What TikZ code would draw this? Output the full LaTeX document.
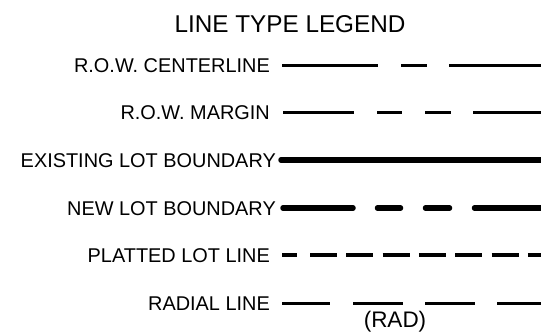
\documentclass[tikz,border=0pt]{standalone}
\usepackage{fontspec}
\setmainfont{Liberation Sans}
\begin{document}
\begin{tikzpicture}[x=1pt,y=-1pt]
\tikzset{
  lbl/.style={anchor=base east, inner sep=0pt, font=\fontsize{19.9}{22}\selectfont},
  thinln/.style={line width=3pt, line cap=butt},
  thickln/.style={line width=5.5pt, line cap=round},
  medln/.style={line width=4pt, line cap=butt}
}
\useasboundingbox (0,0) rectangle (541,333);
\fill[white] (0,0) rectangle (541,333);
\node[anchor=base, inner sep=0pt, font=\fontsize{24.3}{26}\selectfont] (title) at (290,32) {LINE TYPE LEGEND};
% labels
\node[lbl] (l1) at (270,72) {R.O.W. CENTERLINE};
\node[lbl] (l2) at (270,119) {R.O.W. MARGIN};
\node[lbl] (l3) at (276,167) {EXISTING LOT BOUNDARY};
\node[lbl] (l4) at (276,215) {NEW LOT BOUNDARY};
\node[lbl] (l5) at (270,262) {PLATTED LOT LINE};
\node[lbl] (l6) at (270,310) {RADIAL LINE};
\node[anchor=base, inner sep=0pt, font=\fontsize{22.5}{26}\selectfont] (rad) at (395,327) {(RAD)};
% row 1: centerline
\draw[thinln] (282,65) -- (378,65);
\draw[thinln] (401,65) -- (427,65);
\draw[thinln] (449,65) -- (545,65);
% row 2: margin
\draw[thinln] (283,112) -- (354,112);
\draw[thinln] (377,112) -- (402,112);
\draw[thinln] (425,112) -- (451,112);
\draw[thinln] (473,112) -- (545,112);
% row 3: existing lot boundary
\draw[thickln] (281,160) -- (548,160);
% row 4: new lot boundary
\draw[thickln] (283,208) -- (353,208);
\draw[thickln] (377.5,208) -- (400.5,208);
\draw[thickln] (425.5,208) -- (449.5,208);
\draw[thickln] (474.5,208) -- (548,208);
% row 5: platted lot line
\draw[medln] (282,255) -- (297,255);
\foreach \i in {0,...,6}{
  \draw[medln] ({310+36.3*\i},255) -- ({337+36.3*\i},255);
}
% row 6: radial line
\draw[thinln] (282,303) -- (330,303);
\draw[thinln] (353,303) -- (403,303);
\draw[thinln] (425,303) -- (475,303);
\draw[thinln] (497,303) -- (545,303);
\end{tikzpicture}
\end{document}
